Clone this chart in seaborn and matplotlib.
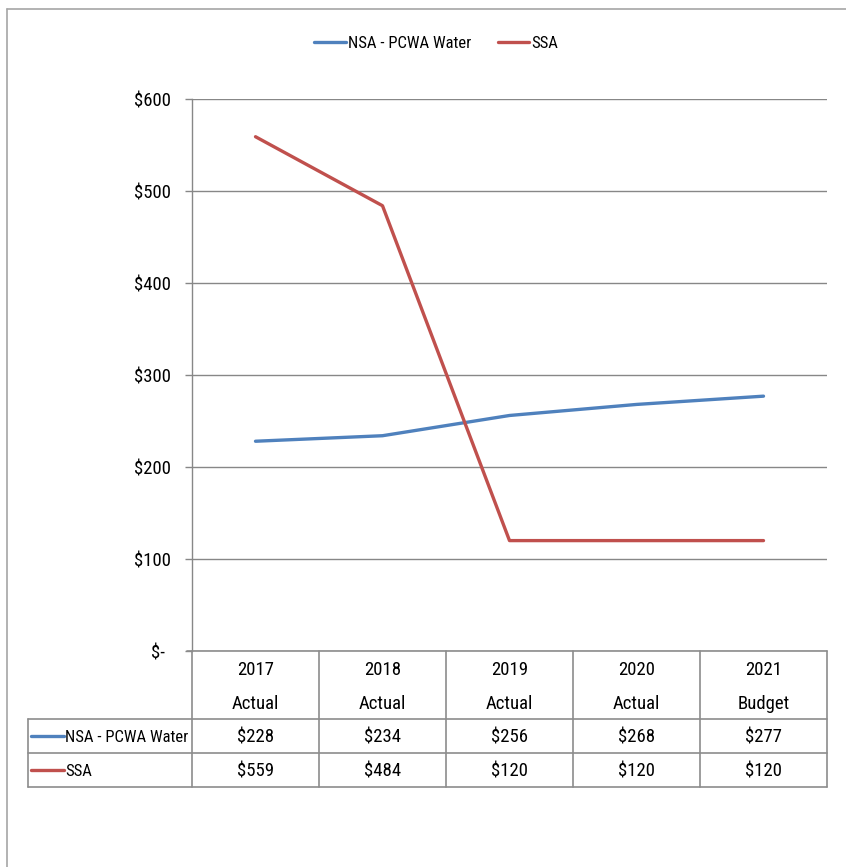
import matplotlib
matplotlib.use("Agg")
import matplotlib.pyplot as plt
from matplotlib import font_manager
from matplotlib.lines import Line2D
from matplotlib.transforms import ScaledTranslation
import seaborn as sns
import pandas as pd

# Data
years = ["2017", "2018", "2019", "2020", "2021"]
kinds = ["Actual", "Actual", "Actual", "Actual", "Budget"]
nsa_water = [228, 234, 256, 268, 277]
ssa = [559, 484, 120, 120, 120]
series_names = ["NSA - PCWA Water", "SSA"]
y_ticks = [0, 100, 200, 300, 400, 500, 600]
y_labels = ["$-", "$100", "$200", "$300", "$400", "$500", "$600"]

colors = {"NSA - PCWA Water": "#4F81BD", "SSA": "#C0504D"}
grid_gray = "#878787"

sns.set_style("white")

# prefer a narrow face for the labels
installed = {f.name for f in font_manager.fontManager.ttflist}
narrow = [n for n in ["Liberation Sans Narrow", "DejaVu Sans Condensed",
                      "Roboto Condensed", "Open Sans Condensed"] if n in installed]
if narrow:
    base_font, fs, fs_name = narrow[0], 13.5, 12
else:
    base_font, fs, fs_name = "Liberation Sans", 12, 11
plt.rcParams["font.family"] = [base_font, "DejaVu Sans"]
plt.rcParams["text.color"] = "black"
plt.rcParams["ytick.labelcolor"] = "black"

W, H = 846, 867
fig = plt.figure(figsize=(W / 100, H / 100), dpi=100)


def fx(px):
    return px / W


def fy(py):
    return 1 - py / H


# plot area
x0, x1, ytop, ybot = 192, 827, 99, 651
ax = fig.add_axes([fx(x0), fy(ybot), fx(x1) - fx(x0), fy(ytop) - fy(ybot)])

df = pd.DataFrame({
    "pos": list(range(len(years))) * 2,
    "value": nsa_water + ssa,
    "series": [series_names[0]] * len(years) + [series_names[1]] * len(years),
})
sns.lineplot(data=df, x="pos", y="value", hue="series", palette=colors,
             linewidth=2.4, ax=ax, legend=False)

ax.set_xlim(-0.5, len(years) - 0.5)
ax.set_ylim(0, 600)
ax.set_yticks(y_ticks)
ax.set_yticklabels(y_labels, fontsize=fs)
ax.set_xticks([])
ax.set_xlabel("")
ax.set_ylabel("")
ax.grid(axis="y", color=grid_gray, linewidth=1)
ax.set_axisbelow(True)
for s in ["top", "right", "bottom"]:
    ax.spines[s].set_visible(False)
ax.spines["left"].set_color(grid_gray)
ax.spines["left"].set_linewidth(1)
ax.tick_params(axis="y", length=5, width=1, color=grid_gray, pad=10,
               left=True)
# the zero label sits slightly further in, as in accounting format
zero_lbl = ax.get_yticklabels()[0]
zero_lbl.set_transform(zero_lbl.get_transform() +
                       ScaledTranslation(-6 / 100, 0, fig.dpi_scale_trans))

# figure frame
fig.add_artist(Line2D([fx(7), fx(846)], [fy(9), fy(9)], color="#A6A6A6", lw=1.2))
fig.add_artist(Line2D([fx(7), fx(7)], [fy(9), fy(867)], color="#A6A6A6", lw=1.2))

# legend
handles = [Line2D([], [], color=colors[n], lw=2.4) for n in series_names]
fig.legend(handles, series_names, loc="center", bbox_to_anchor=(fx(436), fy(43)),
           ncol=2, frameon=False, fontsize=fs_name, handlelength=1.9,
           handletextpad=0.1, columnspacing=1.6)

# data table
col_w = (x1 - x0) / len(years)
header_top, header_bot = 651, 719
row_h = 34
rows_top = header_bot
rows_bot = rows_top + row_h * len(series_names)
label_left = 28
tbl_color = "#8C8C8C"


def hline(xa, xb, y):
    fig.add_artist(Line2D([fx(xa), fx(xb)], [fy(y), fy(y)], color=tbl_color, lw=1.2))


def vline(x, ya, yb):
    fig.add_artist(Line2D([fx(x), fx(x)], [fy(ya), fy(yb)], color=tbl_color, lw=1.2))


hline(x0 - 5, x1, header_top)
for r in range(len(series_names) + 1):
    hline(label_left, x1, rows_top + r * row_h)
for c in range(len(years) + 1):
    vline(x0 + c * col_w, header_top, rows_bot)
vline(label_left, rows_top, rows_bot)

for c, (yr, kd) in enumerate(zip(years, kinds)):
    cx = fx(x0 + (c + 0.5) * col_w)
    fig.text(cx, fy(670), yr, ha="center", va="center", fontsize=fs)
    fig.text(cx, fy(704), kd, ha="center", va="center", fontsize=fs)

for r, (name, vals) in enumerate(zip(series_names, [nsa_water, ssa])):
    cy = rows_top + (r + 0.5) * row_h
    fig.add_artist(Line2D([fx(31), fx(64)], [fy(cy), fy(cy)], color=colors[name], lw=2.4))
    fig.text(fx(65), fy(cy + 1.5), name, ha="left", va="center", fontsize=fs_name)
    for c, v in enumerate(vals):
        fig.text(fx(x0 + (c + 0.5) * col_w), fy(cy + 1.5), f"${v}", ha="center",
                 va="center", fontsize=fs)

fig.savefig("out.png", dpi=100)
